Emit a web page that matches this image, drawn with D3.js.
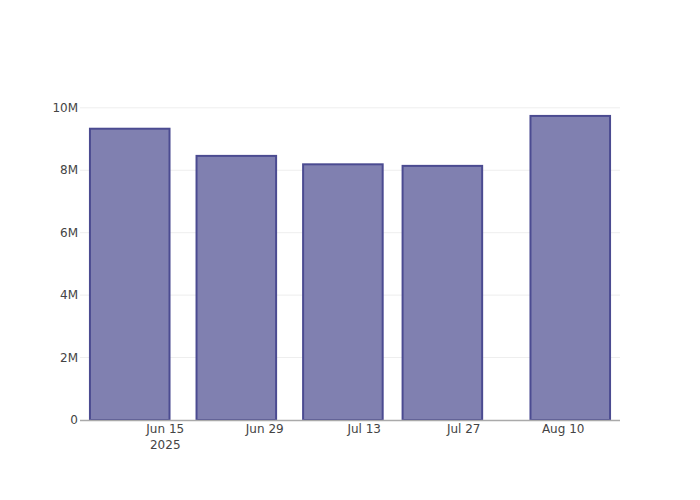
<!DOCTYPE html>
<html><head><meta charset="utf-8">
<script src="https://cdn.jsdelivr.net/npm/d3@7"></script>
<style>body{margin:0;background:#fff}text{font-family:"DejaVu Sans",sans-serif}</style>
</head><body>
<svg id="c" width="700" height="500"></svg>
<script>
const dates = ["2025-06-10","2025-06-25","2025-07-10","2025-07-24","2025-08-11"];
const values = [9330000, 8460000, 8190000, 8140000, 9740000];
const xTickDates = ["2025-06-15","2025-06-29","2025-07-13","2025-07-27","2025-08-10"];
const xTickLabels = ["Jun 15","Jun 29","Jul 13","Jul 27","Aug 10"];
const yTicks = [0, 2000000, 4000000, 6000000, 8000000, 10000000];
const yTickLabels = ["0","2M","4M","6M","8M","10M"];
const xRange = ["2025-06-03","2025-08-18"];
const yMax = 10250000;

const parse = d3.utcParse("%Y-%m-%d");
const svg = d3.select("#c");
const L=80,R=620,T=100,B=420;
const x = d3.scaleUtc().domain(xRange.map(parse)).range([L,R]);
const y = d3.scaleLinear().domain([0,yMax]).range([B,T]);
const dayMs = 86400000;
const barW = x(new Date(parse(dates[0]).getTime()+11.2*dayMs)) - x(parse(dates[0]));

svg.append("g").selectAll("line").data(yTicks.slice(1)).join("line")
  .attr("x1",L).attr("x2",R).attr("y1",d=>y(d)).attr("y2",d=>y(d))
  .attr("stroke","#eee").attr("stroke-width",1);

svg.append("g").selectAll("rect").data(dates.map((d,i)=>({d:parse(d),v:values[i]}))).join("rect")
  .attr("x",d=>x(d.d)-barW/2).attr("width",barW)
  .attr("y",d=>y(d.v)).attr("height",d=>B-y(d.v))
  .attr("fill","rgb(128,128,176)").attr("stroke","rgb(75,75,145)").attr("stroke-width",2);

svg.append("line").attr("x1",L).attr("x2",R).attr("y1",B+0.5).attr("y2",B+0.5)
  .attr("stroke","#aaa").attr("stroke-width",1.5);

svg.append("g").selectAll("text").data(yTicks).join("text")
  .attr("x",78).attr("y",d=>y(d)+4).attr("text-anchor","end")
  .attr("font-size",12).attr("fill","#444").text((d,i)=>yTickLabels[i]);

const xg = svg.append("g");
xg.selectAll("text").data(xTickDates).join("text")
  .attr("x",d=>x(parse(d))).attr("y",433).attr("text-anchor","middle")
  .attr("font-size",12).attr("fill","#444").text((d,i)=>xTickLabels[i]);
xg.append("text").attr("x",x(parse(xTickDates[0]))).attr("y",449).attr("text-anchor","middle")
  .attr("font-size",12).attr("fill","#444").text("2025");
</script>
</body></html>
